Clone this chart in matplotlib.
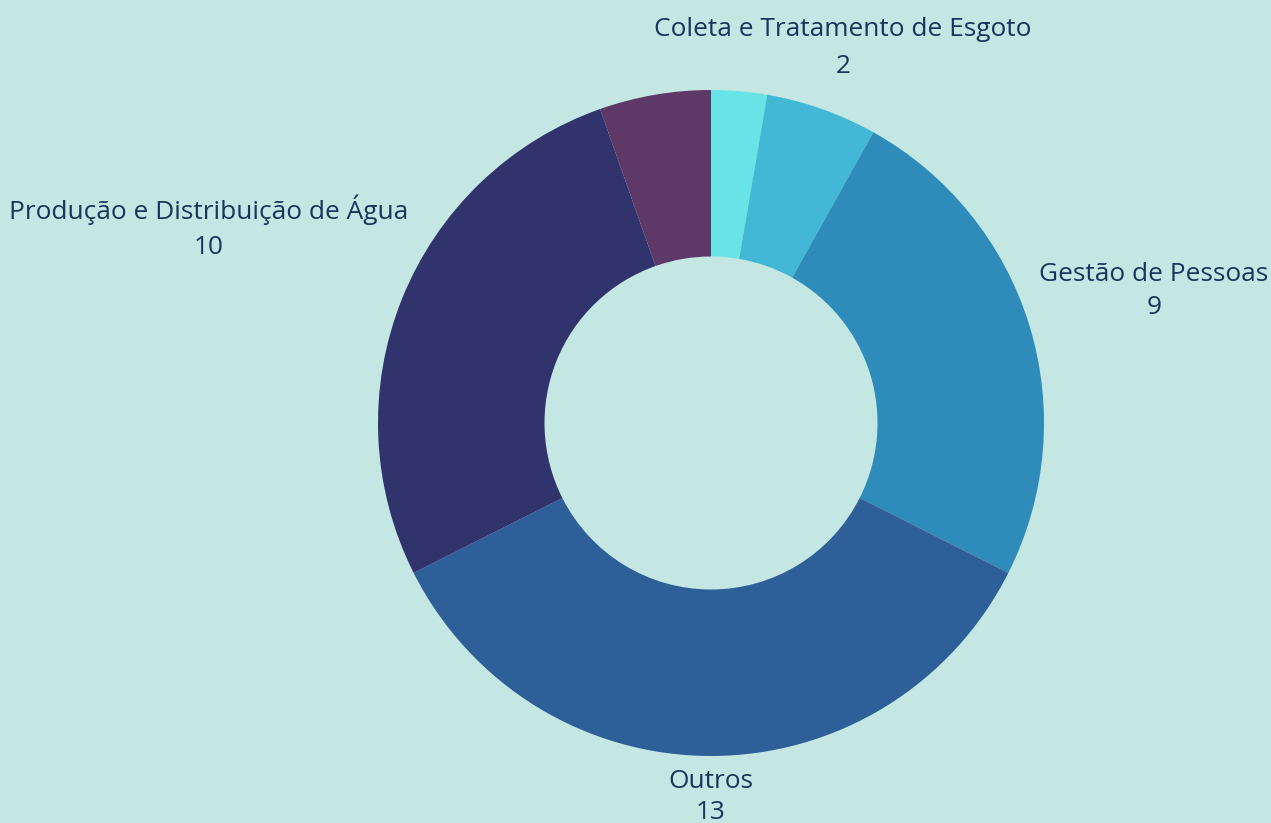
import matplotlib
matplotlib.use("Agg")
import matplotlib.pyplot as plt
import numpy as np

categories = ["", "Coleta e Tratamento de Esgoto", "Gestão de Pessoas", "Outros",
              "Produção e Distribuição de Água", ""]
values = [1, 2, 9, 13, 10, 2]
show_label = [False, True, True, True, True, False]
colors = ["#68E4E6", "#42B7D6", "#2E8BBA", "#2E5F98", "#31346C", "#5E3866"]

BG = "#C4E7E3"
TXT = "#17365D"
W, H = 1271, 823
cx, cy, R = 711, 423, 333

fig = plt.figure(figsize=(W / 100, H / 100), dpi=100, facecolor=BG)
ax = fig.add_axes([0, 0, 1, 1])
ax.set_facecolor(BG)
ax.pie(values, colors=colors, startangle=90, counterclock=False, radius=1,
       wedgeprops=dict(width=0.5, linewidth=0))
ax.set_xlim(-cx / R, (W - cx) / R)
ax.set_ylim(-(H - cy) / R, cy / R)
ax.set_aspect("auto")
ax.axis("off")

def px(x, y):
    return (x - cx) / R, (cy - y) / R

# label placement (pixel anchors converted to data units)
placements = {
    1: (px(843, 48), 1.68),
    2: (px(1154, 291), 1.4),
    3: (px(711, 797), 1.35),
    4: (px(209, 227), 1.55),
}
font = dict(family=["Open Sans", "DejaVu Sans"], size=18.9, color=TXT)
for i, (name, v) in enumerate(zip(categories, values)):
    if not show_label[i]:
        continue
    (x, y), ls = placements[i]
    ax.text(x, y, f"{name}\n{v}", ha="center", va="center", linespacing=ls,
            multialignment="center", **font)

fig.savefig("out.png", dpi=100, facecolor=BG)
